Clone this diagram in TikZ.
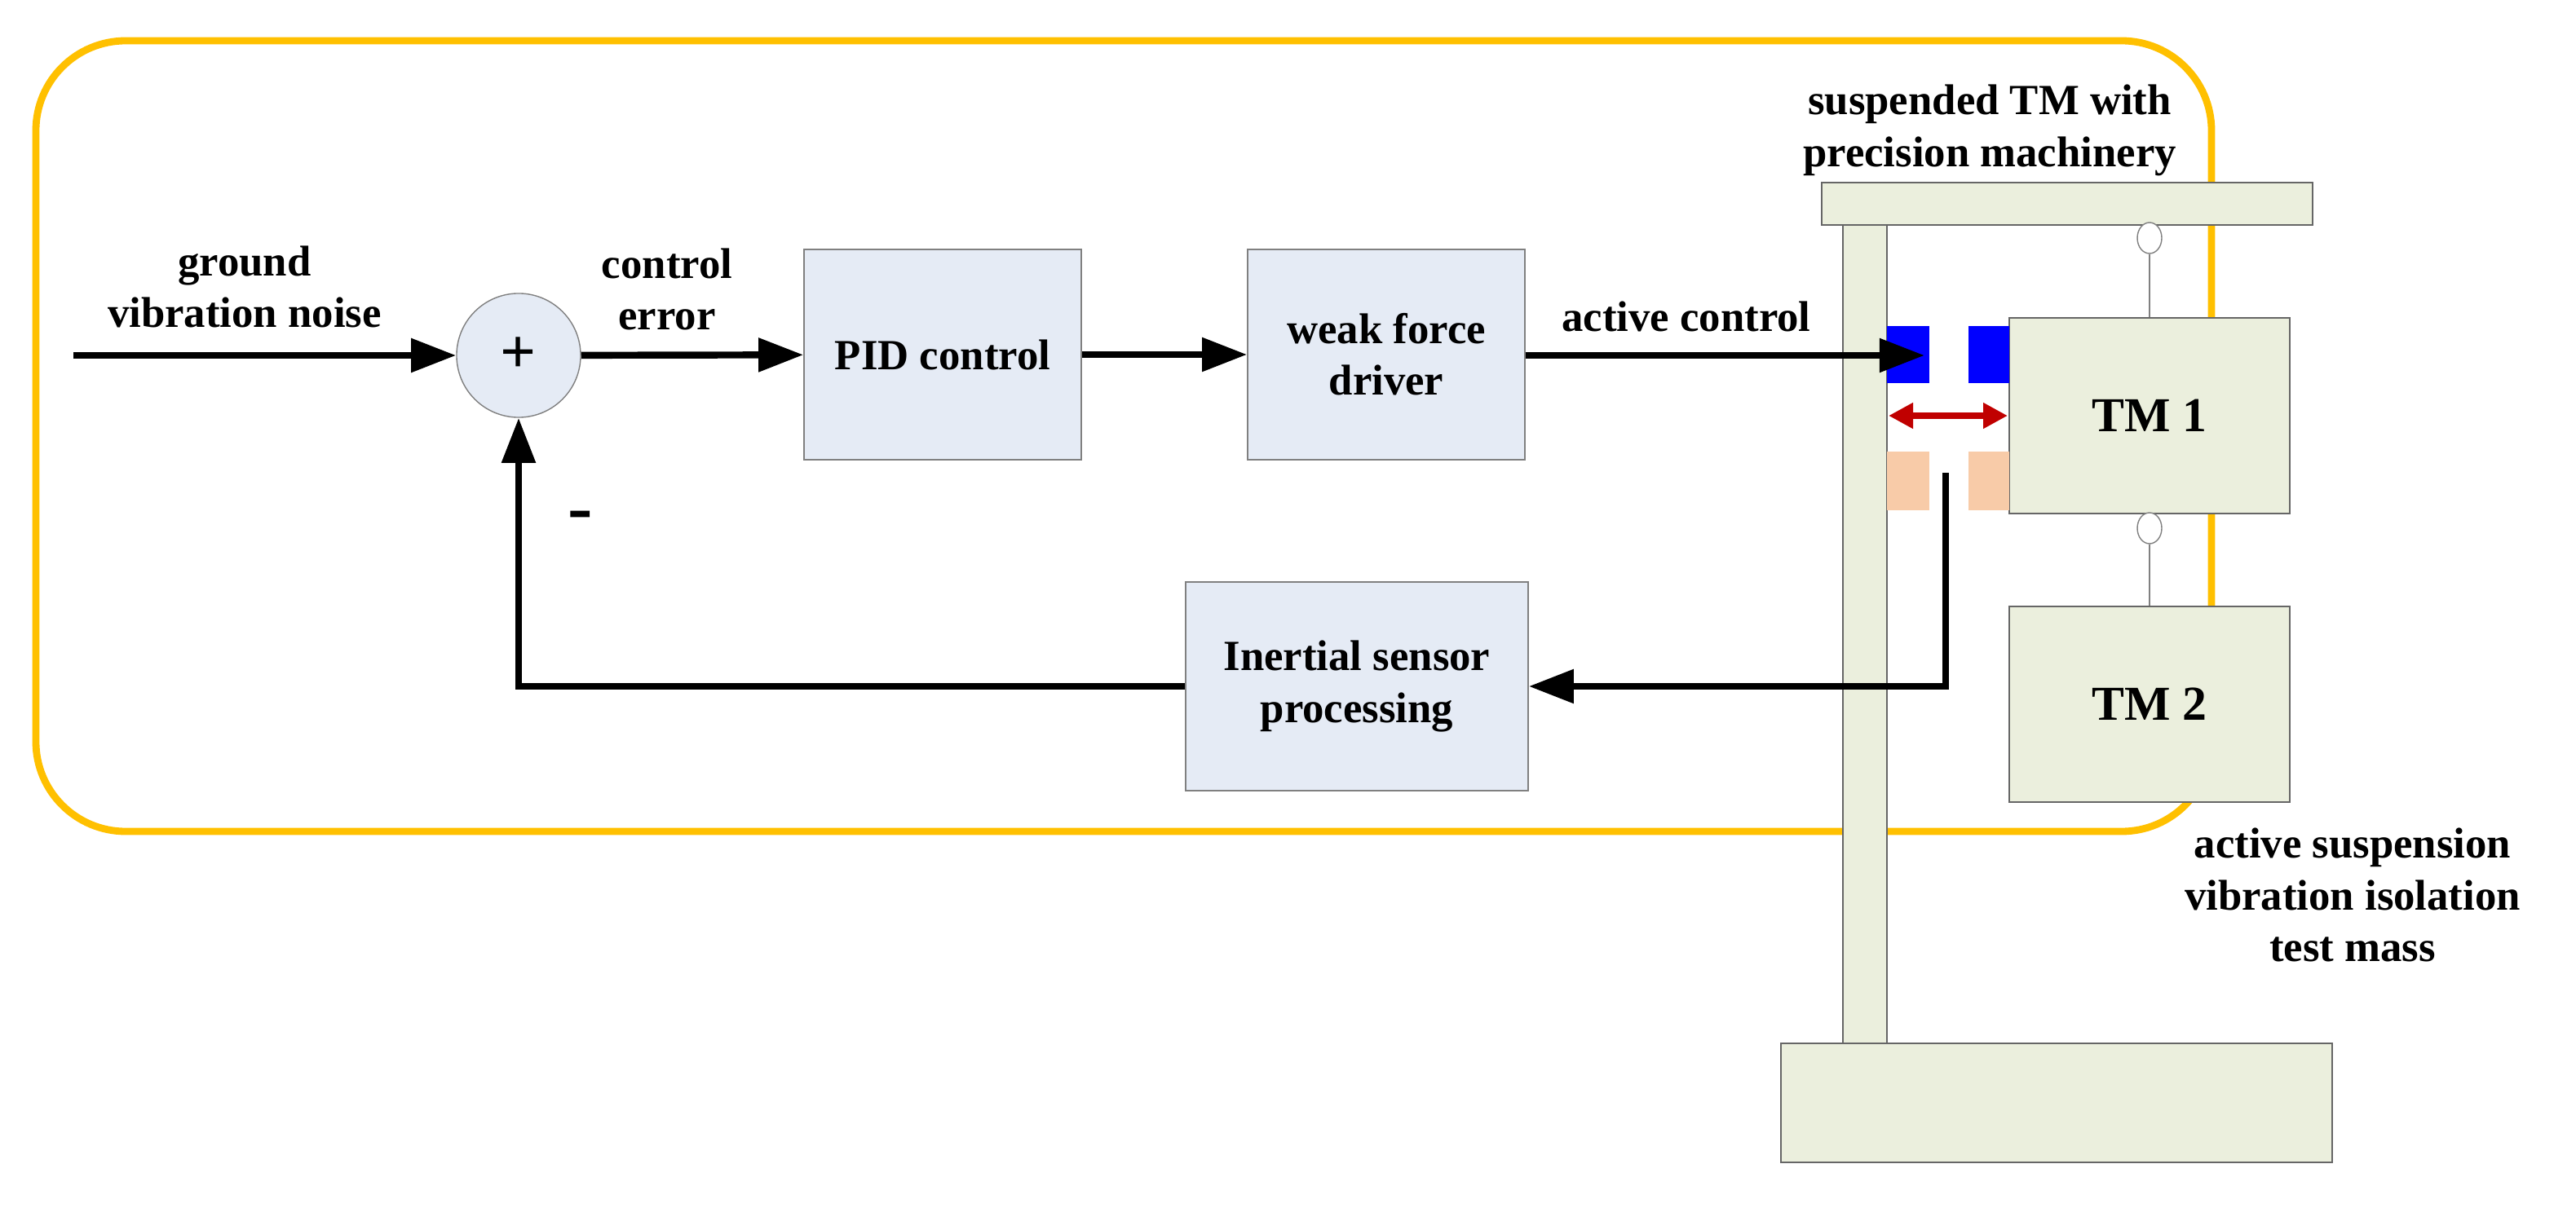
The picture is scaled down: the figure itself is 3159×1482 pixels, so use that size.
\documentclass[tikz,border=0pt]{standalone}
\usepackage{fontspec}
\setmainfont{Liberation Serif}
\usetikzlibrary{arrows.meta,shapes.geometric}
\definecolor{boxb}{HTML}{E5EBF5}
\definecolor{gr}{HTML}{EBEFDD}
\definecolor{og}{HTML}{FFC000}
\definecolor{pe}{HTML}{F8CBA8}
\definecolor{rd}{HTML}{C00000}
\begin{document}
\begin{tikzpicture}[x=0.01cm,y=-0.01cm,
 blk/.style={draw=gray,fill=boxb,minimum width=3.4cm,minimum height=2.58cm,font=\fontsize{15}{18}\selectfont\bfseries,align=center},
 mech/.style={draw=gray!80!black,fill=gr},
 lbl/.style={font=\fontsize{15}{18}\selectfont\bfseries,align=center},
 sig/.style={line width=2.4pt,-{Triangle[length=0.55cm,width=0.4cm]}},
 every node/.style={inner sep=0pt}]
\useasboundingbox (0,0) rectangle (3159,1482);
\draw[og,line width=2.5pt,rounded corners=1.1cm] (44,50) rectangle (2712,1020);
% mechanics
\draw[mech] (2234,224) rectangle (2836,276);
\draw[mech] (2260,276) rectangle (2314,1280);
\draw[mech] (2184,1280) rectangle (2860,1426);
\node[mech,minimum width=3.44cm,minimum height=2.4cm,font=\fontsize{17}{20}\selectfont\bfseries] (tm1) at (2636,510) {TM 1};
\node[mech,minimum width=3.44cm,minimum height=2.4cm,font=\fontsize{17}{20}\selectfont\bfseries] (tm2) at (2636,864) {TM 2};
\node[draw=gray,fill=white,ellipse,minimum width=0.3cm,minimum height=0.38cm] (c1) at (2636,292) {};
\node[draw=gray,fill=white,ellipse,minimum width=0.3cm,minimum height=0.38cm] (c2) at (2636,648) {};
\draw[gray] (c1) -- (tm1.north);
\draw[gray] (c2) -- (tm2.north);
\fill[blue] (2314,400) rectangle (2366,470);
\fill[blue] (2414,400) rectangle (2464,470);
\fill[pe] (2314,554) rectangle (2366,626);
\fill[pe] (2414,554) rectangle (2464,626);
\coordinate (aL) at (2316,510);
\coordinate (aR) at (2462,510);
\draw[rd,line width=2.5pt,{Triangle[length=0.3cm,width=0.3cm]}-{Triangle[length=0.3cm,width=0.3cm]}] (aL) -- (aR);
% blocks
\node[draw=gray,fill=boxb,circle,minimum size=1.52cm,font=\fontsize{22}{24}\selectfont\bfseries] (sum) at (636,436) {+};
\node[blk] (pid) at (1156,435) {PID control};
\node[blk] (wfd) at (1700,435) {weak force\\driver};
\node[blk,minimum width=4.2cm,minimum height=2.56cm] (isp) at (1664,842) {Inertial sensor\\processing};
\coordinate (in) at (90,436);
\coordinate (act) at (2360,436);
\coordinate (fb) at (2386,580);
\coordinate (fb2) at (2386,842);
\coordinate (fb3) at (636,842);
\draw[sig] (in) -- (sum);
\draw[sig] (sum) -- (pid);
\draw[sig] (pid) -- (wfd);
\draw[sig] (wfd.east|-act) -- (act);
\draw[sig] (fb) -- (fb2) -- (isp);
\draw[sig] (isp) -- (fb3) -- (sum);
% labels
\node[lbl] at (300,352) {ground\\vibration noise};
\node[lbl] at (818,355) {control\\error};
\node[lbl] at (2068,388) {active control};
\node[font=\fontsize{26}{28}\selectfont\bfseries] at (712,640) {-};
\node[lbl] at (2440,160) {suspended TM with\\precision machinery};
\node[lbl] at (2885,1098) {active suspension\\vibration isolation\\test mass};
\end{tikzpicture}
\end{document}
